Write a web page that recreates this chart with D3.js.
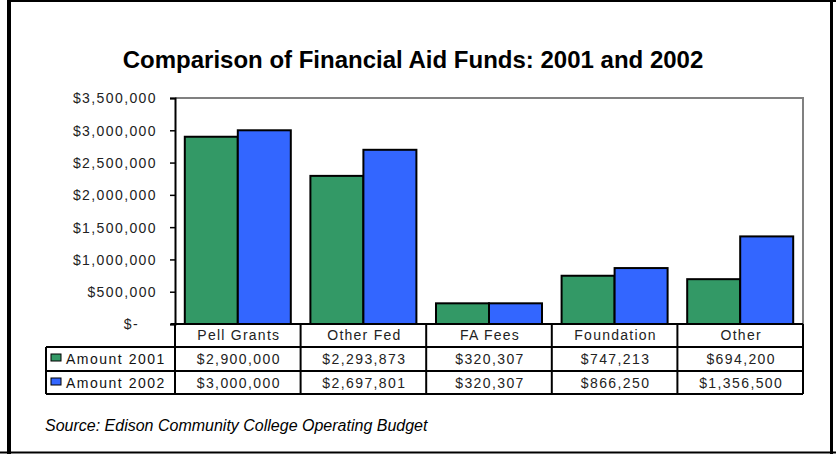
<!DOCTYPE html>
<html>
<head>
<meta charset="utf-8">
<script src="https://cdn.jsdelivr.net/npm/d3@7"></script>
<style>
  body { margin: 0; background: #fff; }
  text { font-family: Arial, "Liberation Sans", sans-serif; }
</style>
</head>
<body>
<div id="chart-area"></div>
<script>
const categories = ["Pell Grants", "Other Fed", "FA Fees", "Foundation", "Other"];
const seriesNames = ["Amount 2001", "Amount 2002"];
const amount2001 = [2900000, 2293873, 320307, 747213, 694200];
const amount2002 = [3000000, 2697801, 320307, 866250, 1356500];
const yTicks = [0, 500000, 1000000, 1500000, 2000000, 2500000, 3000000, 3500000];
const colors = ["#339966", "#3366ff"];

const W = 836, H = 454;
const plot = {left: 175, right: 803, top: 98, bottom: 324};
const rowH = [324, 347, 371, 394];   // table row boundaries
const tableLeft = 46;

const svg = d3.select("#chart-area")
  .append("svg")
    .attr("width", W)
    .attr("height", H);

// frame
svg.append("line").attr("x1", 9).attr("x2", 9).attr("y1", 0).attr("y2", H).attr("stroke", "#000").attr("stroke-width", 4);
svg.append("line").attr("x1", 7).attr("x2", W).attr("y1", 1).attr("y2", 1).attr("stroke", "#000").attr("stroke-width", 2);
svg.append("line").attr("x1", 831.5).attr("x2", 831.5).attr("y1", 0).attr("y2", H).attr("stroke", "#000").attr("stroke-width", 3);
svg.append("line").attr("x1", 0).attr("x2", W).attr("y1", 452.5).attr("y2", 452.5).attr("stroke", "#000").attr("stroke-width", 2);

// title
svg.append("text")
  .attr("x", 413).attr("y", 68)
  .attr("text-anchor", "middle")
  .attr("font-size", "24px")
  .attr("font-weight", "bold")
  .text("Comparison of Financial Aid Funds: 2001 and 2002");

const x0 = d3.scaleBand()
  .domain(categories)
  .range([plot.left, plot.right])
  .paddingInner(0.156)
  .paddingOuter(0.078);

const x1 = d3.scaleBand()
  .domain(seriesNames)
  .range([0, x0.bandwidth()]);

const xCell = d3.scaleBand()
  .domain(categories)
  .range([plot.left, plot.right]);

const y = d3.scaleLinear()
  .domain([0, 3500000])
  .range([plot.bottom, plot.top]);

// plot border (gray top + right)
svg.append("path")
  .attr("d", `M${plot.left},${plot.top}H${plot.right}V${plot.bottom}`)
  .attr("fill", "none")
  .attr("stroke", "#808080")
  .attr("stroke-width", 2);

// bars
const rows = categories.map((c, i) => ({cat: c, vals: [amount2001[i], amount2002[i]]}));
svg.append("g").selectAll("g")
  .data(rows)
  .join("g")
    .attr("transform", d => `translate(${x0(d.cat)},0)`)
  .selectAll("rect")
  .data(d => d.vals.map((v, j) => ({s: seriesNames[j], v: v, j: j})))
  .join("rect")
    .attr("x", d => x1(d.s))
    .attr("y", d => y(d.v))
    .attr("width", x1.bandwidth())
    .attr("height", d => y(0) - y(d.v))
    .attr("fill", d => colors[d.j])
    .attr("stroke", "#000")
    .attr("stroke-width", 2);

// y axis
const fmt = d3.format(",");
const yAxis = svg.append("g")
  .attr("transform", `translate(${plot.left},0)`)
  .call(d3.axisLeft(y).tickValues(yTicks).tickSize(5).tickPadding(14)
    .tickFormat(d => d === 0 ? "$-" : "$" + fmt(d)));
yAxis.select(".domain").attr("stroke", "#000").attr("stroke-width", 2);
yAxis.selectAll(".tick line").attr("stroke", "#000").attr("stroke-width", 1.5);
yAxis.selectAll(".tick text")
  .attr("font-size", "14px")
  .attr("letter-spacing", "1.4px")
  .attr("fill", "#222")
  .attr("dy", "0.35em")
  .attr("x", d => d === 0 ? -36 : -18);

// data table
const table = svg.append("g");
const line = (x1_, y1_, x2_, y2_) => table.append("line")
  .attr("x1", x1_).attr("y1", y1_).attr("x2", x2_).attr("y2", y2_)
  .attr("stroke", "#000").attr("stroke-width", 2);

line(plot.left - 4, rowH[0], plot.right, rowH[0]);
line(tableLeft, rowH[1], plot.right, rowH[1]);
line(tableLeft, rowH[2], plot.right, rowH[2]);
line(tableLeft, rowH[3], plot.right, rowH[3]);
line(tableLeft, rowH[1], tableLeft, rowH[3]);
line(plot.left, plot.bottom, plot.left, rowH[3]);
categories.forEach(c => line(xCell(c) + xCell.bandwidth(), rowH[0], xCell(c) + xCell.bandwidth(), rowH[3]));

table.selectAll(".cat")
  .data(categories)
  .join("text")
    .attr("class", "cat")
    .attr("x", d => xCell(d) + xCell.bandwidth() / 2 + 1)
    .attr("y", rowH[0] + 16)
    .attr("text-anchor", "middle")
    .attr("font-size", "14px")
    .attr("letter-spacing", "1.25px")
    .attr("fill", "#222")
    .text(d => d);

[amount2001, amount2002].forEach((vals, j) => {
  const yy = rowH[j + 1] + 17;
  table.selectAll(".v" + j)
    .data(vals)
    .join("text")
      .attr("class", "v" + j)
      .attr("x", (d, i) => xCell(categories[i]) + xCell.bandwidth() / 2 + 1)
      .attr("y", yy)
      .attr("text-anchor", "middle")
      .attr("font-size", "14px")
      .attr("letter-spacing", "1.4px")
      .attr("fill", "#222")
      .text(d => "$" + fmt(d));
  table.append("rect")
    .attr("x", 51).attr("y", yy - 10)
    .attr("width", 10).attr("height", 7)
    .attr("fill", colors[j])
    .attr("stroke", "#000")
    .attr("stroke-width", 1);
  table.append("text")
    .attr("x", 66).attr("y", yy)
    .attr("font-size", "14px")
    .attr("letter-spacing", "1.5px")
    .attr("fill", "#111")
    .text(seriesNames[j]);
});

// source note
svg.append("text")
  .attr("x", 45).attr("y", 431)
  .attr("font-size", "16px")
  .attr("font-style", "italic")
  .text("Source: Edison Community College Operating Budget");
</script>
</body>
</html>
